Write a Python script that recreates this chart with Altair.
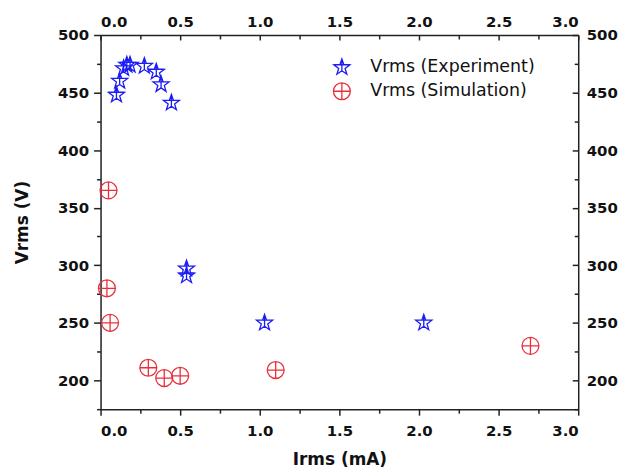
import math
import altair as alt
import pandas as pd

# ---- data ----
exp_irms = [0.10, 0.12, 0.145, 0.165, 0.185, 0.275, 0.35, 0.38, 0.445, 0.54, 0.54, 1.03, 2.03]
exp_vrms = [448, 460, 471, 474, 474, 473, 468, 457, 441, 297, 291, 250, 250]
sim_irms = [0.05, 0.04, 0.06, 0.30, 0.40, 0.50, 1.10, 2.70]
sim_vrms = [365, 280, 250, 211, 202, 204, 209, 230]

series_names = ["Vrms (Experiment)", "Vrms (Simulation)"]
series_colors = ["#1c1cf5", "#e8303c"]

x_ticks = [0.0, 0.25, 0.5, 0.75, 1.0, 1.25, 1.5, 1.75, 2.0, 2.25, 2.5, 2.75, 3.0]
y_ticks = [175, 200, 225, 250, 275, 300, 325, 350, 375, 400, 425, 450, 475, 500]

# ---- marker shapes (unit paths) ----
pts = []
for k in range(10):
    ang = math.radians(-90 + 36 * k)
    r = 1.0 if k % 2 == 0 else 0.4
    pts.append((r * math.cos(ang), r * math.sin(ang)))
star_path = ("M " + " L ".join(f"{px:.3f} {py:.3f}" for px, py in pts) + " Z"
             + " M 0 -1 L 0 0.4 M -0.951 -0.309 L 0.951 -0.309")
circle_path = ("M -1 0 A 1 1 0 1 1 1 0 A 1 1 0 1 1 -1 0 Z "
               "M -1 0 L 1 0 M 0 -1 L 0 1")

df = pd.DataFrame({
    "Irms": exp_irms + sim_irms,
    "Vrms": exp_vrms + sim_vrms,
    "series": [series_names[0]] * len(exp_irms) + [series_names[1]] * len(sim_irms),
})

FONT = "DejaVu Sans"
x_scale = alt.Scale(domain=[0, 3], nice=False, zero=False)
y_scale = alt.Scale(domain=[175, 500], nice=False, zero=False)
x_lab = "datum.value % 0.5 === 0 ? format(datum.value, '.1f') : ''"
y_lab = "datum.value % 50 === 0 ? format(datum.value, 'd') : ''"

legend = alt.Legend(orient="none", legendX=233, legendY=23, title=None,
                    labelFont=FONT, labelFontSize=17.5, labelFontWeight="normal",
                    labelColor="#111", labelLimit=0, symbolSize=289, symbolStrokeWidth=1.3,
                    labelOffset=19, rowPadding=3, padding=0)

points = alt.Chart(df).mark_point(filled=False, strokeWidth=1.3, size=289, opacity=1).encode(
    x=alt.X("Irms:Q", scale=x_scale,
            axis=alt.Axis(orient="bottom", values=x_ticks, title="Irms (mA)", labelExpr=x_lab,
                          tickSize=alt.ExprRef(expr="datum.value % 0.5 === 0 ? 6 : 4"),
                          labelPadding=8, titlePadding=14)),
    y=alt.Y("Vrms:Q", scale=y_scale,
            axis=alt.Axis(orient="left", values=y_ticks, title="Vrms (V)", labelExpr=y_lab,
                          tickSize=alt.ExprRef(expr="datum.value % 50 === 0 ? 7 : 4"),
                          labelPadding=5, titlePadding=26)),
    color=alt.Color("series:N", scale=alt.Scale(domain=series_names, range=series_colors), legend=legend),
    shape=alt.Shape("series:N", scale=alt.Scale(domain=series_names, range=[star_path, circle_path]), legend=legend),
)

axes2 = alt.Chart(df).mark_point(opacity=0).encode(
    x=alt.X("Irms:Q", scale=x_scale,
            axis=alt.Axis(orient="top", values=x_ticks, title=None, labelExpr=x_lab,
                          tickSize=alt.ExprRef(expr="datum.value % 0.5 === 0 ? -5 : -4"),
                          labelPadding=11)),
    y=alt.Y("Vrms:Q", scale=y_scale,
            axis=alt.Axis(orient="right", values=y_ticks, title=None, labelExpr=y_lab,
                          tickSize=alt.ExprRef(expr="datum.value % 50 === 0 ? -6 : -4"),
                          labelPadding=14)),
)

chart = alt.layer(points, axes2).properties(width=480, height=376).configure_view(
    stroke=None
).configure_axis(
    grid=False, domainColor="#222", domainWidth=1.5, tickColor="#222", tickWidth=1.5,
    labelFont=FONT, labelFontWeight="bold", labelFontSize=15, labelColor="#111",
    titleFont=FONT, titleFontWeight="bold", titleFontSize=17, titleColor="#111",
)

chart.save("out.html", embed_options={"renderer": "svg", "actions": False})
